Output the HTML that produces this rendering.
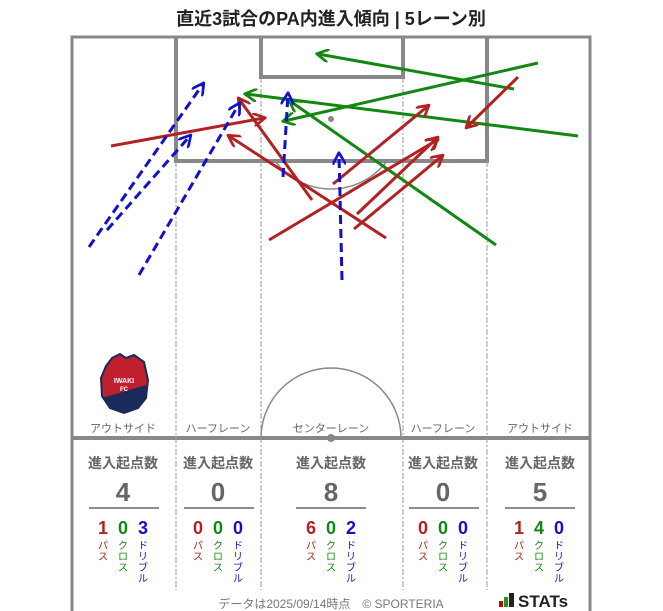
<!DOCTYPE html>
<html><head><meta charset="utf-8"><style>
body{margin:0;background:#fff;}
svg{display:block;font-family:"Liberation Sans","Noto Sans CJK JP",sans-serif;}
.b{font-weight:700;}
</style></head><body>
<svg width="663" height="611" viewBox="0 0 663 611" xmlns="http://www.w3.org/2000/svg">
<defs>
<marker id="ar" viewBox="0 0 10 10" refX="8" refY="5" markerWidth="4.5" markerHeight="4.5" orient="auto"><path d="M0,0 L9,5 L0,10" fill="none" stroke="#b22222" stroke-width="2" stroke-dasharray="none"/></marker>
<marker id="ag" viewBox="0 0 10 10" refX="8" refY="5" markerWidth="4.5" markerHeight="4.5" orient="auto"><path d="M0,0 L9,5 L0,10" fill="none" stroke="#118811" stroke-width="2" stroke-dasharray="none"/></marker>
<marker id="ab" viewBox="0 0 10 10" refX="8" refY="5" markerWidth="4.5" markerHeight="4.5" orient="auto"><path d="M0,0 L9,5 L0,10" fill="none" stroke="#1111cc" stroke-width="2" stroke-dasharray="none"/></marker>
</defs>
<text x="331" y="25" text-anchor="middle" font-size="18" class="b" fill="#222">直近3試合のPA内進入傾向 | 5レーン別</text>
<g fill="none" stroke="#888">
<path d="M72,611 L72,37 L590,37 L590,611" stroke-width="3"/>
<path d="M176,37 L176,161 L487,161 L487,37" stroke-width="4"/>
<path d="M261,37 L261,77 L403,77 L403,37" stroke-width="4"/>
<line x1="72" y1="438" x2="590" y2="438" stroke-width="4"/>
<path d="M275,161 A70,70 0 0 0 387,161" stroke-width="1.5"/>
<path d="M261,438 A70,70 0 0 1 401,438" stroke-width="1.5"/>
<g stroke-width="1" stroke-dasharray="6,2,2,2" stroke="#999">
<line x1="176" y1="161" x2="176" y2="590"/><line x1="261" y1="77" x2="261" y2="590"/>
<line x1="403" y1="77" x2="403" y2="590"/><line x1="487" y1="161" x2="487" y2="590"/>
</g>
</g>
<circle cx="331" cy="119" r="3" fill="#888"/><circle cx="331" cy="438" r="4" fill="#888"/>
<path d="M112,358 L120,354 L126,358 L134,355 L144,362 L148,380 L146,398 L138,408 L124,413 L110,408 L102,396 L101,378 L106,366 Z" fill="#c0202e" stroke="#1a2a5a" stroke-width="2"/>
<path d="M102,398 L146,385 L146,398 L138,408 L124,413 L110,408 Z" fill="#1a2a5a"/>
<text x="124" y="383" text-anchor="middle" font-size="7" class="b" fill="#fff">IWAKI</text>
<text x="124" y="391" text-anchor="middle" font-size="6" class="b" fill="#fff">FC</text>
<g font-size="11" fill="#666" text-anchor="middle">
<text x="123" y="432">アウトサイド</text><text x="218" y="432">ハーフレーン</text><text x="331" y="432">センターレーン</text><text x="443" y="432">ハーフレーン</text><text x="540" y="432">アウトサイド</text>
</g>
<g stroke-width="3" fill="none">
<g stroke="#118811">
<line x1="514" y1="89" x2="318" y2="54" marker-end="url(#ag)"/>
<line x1="538" y1="63" x2="284" y2="121" marker-end="url(#ag)"/>
<line x1="578" y1="136" x2="246" y2="94" marker-end="url(#ag)"/>
<line x1="496" y1="245" x2="290" y2="101" marker-end="url(#ag)"/>
</g>
<g stroke="#b22222">
<line x1="111" y1="146" x2="264" y2="118" marker-end="url(#ar)"/>
<line x1="312" y1="200" x2="239" y2="99" marker-end="url(#ar)"/>
<line x1="386" y1="238" x2="229" y2="136" marker-end="url(#ar)"/>
<line x1="269" y1="240" x2="437" y2="140" marker-end="url(#ar)"/>
<line x1="333" y1="184" x2="428" y2="106" marker-end="url(#ar)"/>
<line x1="357" y1="214" x2="437" y2="138" marker-end="url(#ar)"/>
<line x1="354" y1="229" x2="442" y2="156" marker-end="url(#ar)"/>
<line x1="518" y1="77" x2="467" y2="127" marker-end="url(#ar)"/>
</g>
<g stroke="#1111cc" stroke-dasharray="9,5">
<line x1="89" y1="247" x2="203" y2="84" marker-end="url(#ab)"/>
<line x1="107" y1="230" x2="190" y2="136" marker-end="url(#ab)"/>
<line x1="139" y1="275" x2="239" y2="104" marker-end="url(#ab)"/>
<line x1="283" y1="177" x2="288" y2="94" marker-end="url(#ab)"/>
<line x1="342" y1="280" x2="339" y2="154" marker-end="url(#ab)"/>
</g>
</g>
<g text-anchor="middle" class="b">
<g font-size="14" fill="#666"><text x="123" y="468" class="b">進入起点数</text><text x="218" y="468" class="b">進入起点数</text><text x="331" y="468" class="b">進入起点数</text><text x="443" y="468" class="b">進入起点数</text><text x="540" y="468" class="b">進入起点数</text></g>
<g font-size="26" fill="#666"><text x="123" y="501" class="b">4</text><text x="218" y="501" class="b">0</text><text x="331" y="501" class="b">8</text><text x="443" y="501" class="b">0</text><text x="540" y="501" class="b">5</text></g>
</g>
<g stroke="#666" stroke-width="1.5"><line x1="89" y1="508" x2="159" y2="508"/><line x1="184" y1="508" x2="254" y2="508"/><line x1="296" y1="508" x2="366" y2="508"/><line x1="409" y1="508" x2="479" y2="508"/><line x1="505" y1="508" x2="575" y2="508"/></g>
<g font-size="18" text-anchor="middle">
<g fill="#b22222"><text x="103" y="534" class="b">1</text><text x="198" y="534" class="b">0</text><text x="311" y="534" class="b">6</text><text x="423" y="534" class="b">0</text><text x="519" y="534" class="b">1</text></g>
<g fill="#118811"><text x="123" y="534" class="b">0</text><text x="218" y="534" class="b">0</text><text x="331" y="534" class="b">0</text><text x="443" y="534" class="b">0</text><text x="539" y="534" class="b">4</text></g>
<g fill="#1111cc"><text x="143" y="534" class="b">3</text><text x="238" y="534" class="b">0</text><text x="351" y="534" class="b">2</text><text x="463" y="534" class="b">0</text><text x="559" y="534" class="b">0</text></g>
</g>
<g font-size="10" text-anchor="middle">
<g fill="#b22222">
<text x="103" y="549"><tspan x="103">パ</tspan><tspan x="103" dy="11">ス</tspan></text>
<text x="198" y="549"><tspan x="198">パ</tspan><tspan x="198" dy="11">ス</tspan></text>
<text x="311" y="549"><tspan x="311">パ</tspan><tspan x="311" dy="11">ス</tspan></text>
<text x="423" y="549"><tspan x="423">パ</tspan><tspan x="423" dy="11">ス</tspan></text>
<text x="519" y="549"><tspan x="519">パ</tspan><tspan x="519" dy="11">ス</tspan></text>
</g>
<g fill="#118811">
<text x="123" y="549"><tspan x="123">ク</tspan><tspan x="123" dy="11">ロ</tspan><tspan x="123" dy="11">ス</tspan></text>
<text x="218" y="549"><tspan x="218">ク</tspan><tspan x="218" dy="11">ロ</tspan><tspan x="218" dy="11">ス</tspan></text>
<text x="331" y="549"><tspan x="331">ク</tspan><tspan x="331" dy="11">ロ</tspan><tspan x="331" dy="11">ス</tspan></text>
<text x="443" y="549"><tspan x="443">ク</tspan><tspan x="443" dy="11">ロ</tspan><tspan x="443" dy="11">ス</tspan></text>
<text x="539" y="549"><tspan x="539">ク</tspan><tspan x="539" dy="11">ロ</tspan><tspan x="539" dy="11">ス</tspan></text>
</g>
<g fill="#1111cc">
<text x="143" y="549"><tspan x="143">ド</tspan><tspan x="143" dy="11">リ</tspan><tspan x="143" dy="11">ブ</tspan><tspan x="143" dy="11">ル</tspan></text>
<text x="238" y="549"><tspan x="238">ド</tspan><tspan x="238" dy="11">リ</tspan><tspan x="238" dy="11">ブ</tspan><tspan x="238" dy="11">ル</tspan></text>
<text x="351" y="549"><tspan x="351">ド</tspan><tspan x="351" dy="11">リ</tspan><tspan x="351" dy="11">ブ</tspan><tspan x="351" dy="11">ル</tspan></text>
<text x="463" y="549"><tspan x="463">ド</tspan><tspan x="463" dy="11">リ</tspan><tspan x="463" dy="11">ブ</tspan><tspan x="463" dy="11">ル</tspan></text>
<text x="559" y="549"><tspan x="559">ド</tspan><tspan x="559" dy="11">リ</tspan><tspan x="559" dy="11">ブ</tspan><tspan x="559" dy="11">ル</tspan></text>
</g>
</g>
<text x="331" y="608" text-anchor="middle" font-size="12" fill="#777">データは2025/09/14時点　© SPORTERIA</text>
<rect x="499" y="601" width="4" height="6" fill="#c00"/><rect x="504" y="597" width="4" height="10" fill="#1a9a1a"/><rect x="509" y="593" width="5" height="14" fill="#222"/>
<text x="518" y="607" font-size="17" class="b" fill="#222">STATs</text>
</svg>
</body></html>
